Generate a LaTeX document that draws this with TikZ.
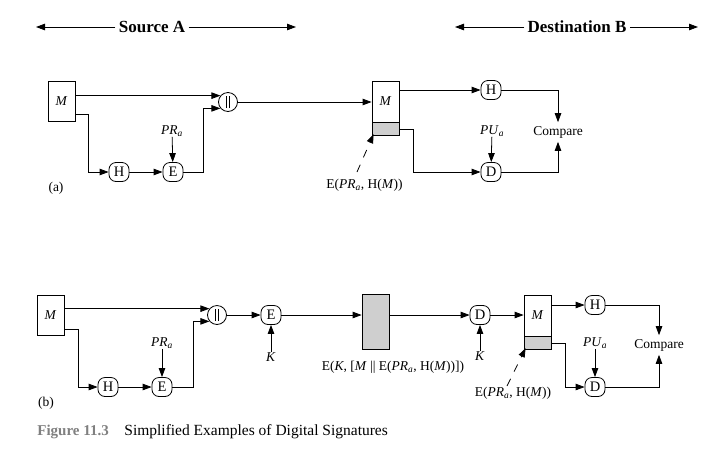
\documentclass[tikz,border=0pt]{standalone}
\usepackage{fontspec}
\setmainfont{Liberation Serif}
\usetikzlibrary{positioning,arrows.meta}

\newcommand{\catbars}{\rule[-5.5pt]{0.7pt}{12pt}\hspace{2.5pt}\rule[-5.5pt]{0.7pt}{12pt}}

\begin{document}
\begin{tikzpicture}[x=1pt,y=-1pt,line width=0.8pt,>={Triangle[length=9pt,width=6.5pt]}]
\tikzstyle{every node}+=[inner sep=0pt,font=\fontsize{13.5}{16}\selectfont]
\tikzstyle{fn}=[draw,rounded corners=7pt,minimum width=20pt,minimum height=19pt,font=\fontsize{14.5}{16}\selectfont]
\tikzstyle{cat}=[draw,circle,minimum size=19pt]
\tikzstyle{msg}=[draw,minimum width=27pt]
\tikzstyle{sig}=[draw,fill=black!19,minimum width=27pt]
\tikzstyle{hdr}=[inner sep=3pt,font=\fontsize{17}{20}\selectfont\bfseries]
\tikzstyle{cmp}=[inner sep=3.5pt]
\tikzstyle{ptr}=[->,dash pattern=on 8pt off 8pt]
\useasboundingbox (0,0) rectangle (721,459);
\node [hdr] (srcA) at (152,27) {Source A};
\coordinate (srcL) at (36,27);
\coordinate (srcR) at (296,27);
\draw [->] (srcA) -- (srcL);
\draw [->] (srcA) -- (srcR);
\node [hdr] (dstB) at (577,27) {Destination B};
\coordinate (dstL) at (455,27);
\coordinate (dstR) at (698,27);
\draw [->] (dstB) -- (dstL);
\draw [->] (dstB) -- (dstR);
\node [msg,minimum height=40pt] (Ma) at (61.5,101) {\textit{M}};
\node [cat] (cata) at (228,102) {\catbars};
\node [fn] (Ha) at (119,172) {H};
\node [fn] (Ea) at (173,172) {E};
\node (PRa) at (172,131) {\textit{PR}\textsubscript{\textit{a}}};
\node [msg,minimum height=41pt] (Mra) at (385.5,101.5) {\textit{M}};
\node [sig,minimum height=13pt,below=0pt of Mra] (Sga) {};
\node [fn] (Hda) at (491,90) {H};
\node [fn] (Dda) at (491,172) {D};
\node (PUa) at (492,131) {\textit{PU}\textsubscript{\textit{a}}};
\node [cmp] (Cmpa) at (558,132) {Compare};
\node (siga) at (364.5,185) {E(\textit{PR}\textsubscript{\textit{a}}, H(\textit{M}))};
\node (laba) at (56,188) {(a)};
\coordinate (ptra) at (357,172);
\draw [->] (Ma.east |- cata.140) -- (cata.140);
\draw [->] ([yshift=7pt]Ma.south east) -- ++(13,0) |- (Ha);
\draw [->] (Ha) -- (Ea);
\draw [->] (PRa) -- (Ea);
\draw [->] (Ea) -- ++(30,0) |- (cata.220);
\draw [->] (cata) -- (cata -| Mra.west);
\draw [->] (Mra.east |- Hda) -- (Hda);
\draw [->] (Hda) -| (Cmpa);
\draw [->] (Sga) -- ++(27.5,0) |- (Dda);
\draw [->] (PUa) -- (Dda);
\draw [->] (Dda) -| (Cmpa);
\draw [ptr] (ptra) -- ([shift={(2,-2)}]Sga.south west);
\node [msg,minimum height=40pt] (Mb) at (50.5,315) {\textit{M}};
\node [cat] (catb) at (217,315) {\catbars};
\node [fn] (Hb) at (108,387) {H};
\node [fn] (Eb) at (162,387) {E};
\node (PRb) at (162,343) {\textit{PR}\textsubscript{\textit{a}}};
\node [fn] (Ekb) at (271,315) {E};
\node (Kb) at (271,357) {\textit{K}};
\node [sig,minimum height=55pt] (Cb) at (375.5,321.5) {};
\node (cipb) at (393,367) {E(\textit{K}, [\textit{M} || E(\textit{PR}\textsubscript{\textit{a}}, H(\textit{M}))])};
\node [fn] (Db) at (480,315) {D};
\node (Kdb) at (480,356) {\textit{K}};
\node [msg,minimum height=41pt] (Mrb) at (537.5,315.5) {\textit{M}};
\node [sig,minimum height=13pt,below=0pt of Mrb] (Sgb) {};
\node [fn] (Hdb) at (595,305) {H};
\node [fn] (Ddb) at (595,387) {D};
\node (PUb) at (595,343) {\textit{PU}\textsubscript{\textit{a}}};
\node [cmp] (Cmpb) at (659,345) {Compare};
\node (sigb) at (513,393) {E(\textit{PR}\textsubscript{\textit{a}}, H(\textit{M}))};
\node (labb) at (46,403) {(b)};
\coordinate (ptrb) at (507,386);
\draw [->] (Mb.east |- catb.140) -- (catb.140);
\draw [->] ([yshift=6pt]Mb.south east) -- ++(14,0) |- (Hb);
\draw [->] (Hb) -- (Eb);
\draw [->] (PRb) -- (Eb);
\draw [->] (Eb) -- ++(31,0) |- (catb.220);
\draw [->] (catb) -- (Ekb);
\draw [->] (Kb) -- (Ekb);
\draw [->] (Ekb) -- (Ekb -| Cb.west);
\draw [->] (Cb.east |- Db) -- (Db);
\draw [->] (Kdb) -- (Db);
\draw [->] (Db) -- (Db -| Mrb.west);
\draw [->] (Mrb.east |- Hdb) -- (Hdb);
\draw [->] (Hdb) -| (Cmpb);
\draw [->] (Sgb) -- ++(27.5,0) |- (Ddb);
\draw [->] (PUb) -- (Ddb);
\draw [->] (Ddb) -| (Cmpb);
\draw [ptr] (ptrb) -- ([shift={(2,-2)}]Sgb.south west);
\node [anchor=base west,font=\fontsize{15}{18}\selectfont\bfseries,text=black!50] (capn) at (37,435) {Figure 11.3};
\node [anchor=base west,font=\fontsize{15.5}{18}\selectfont] (capt) at (124,435) {Simplified Examples of Digital Signatures};
\end{tikzpicture}
\end{document}
